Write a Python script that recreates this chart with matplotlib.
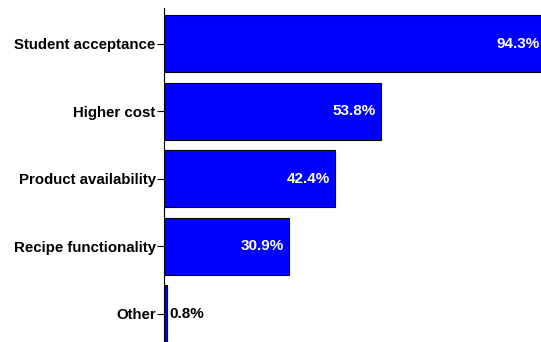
import numpy as np
import matplotlib.pyplot as plt

plt.rcParams['font.family'] = ['Liberation Sans', 'DejaVu Sans']

categories = ["Student acceptance", "Higher cost", "Product availability",
              "Recipe functionality", "Other"]
values = [94.3, 53.8, 42.4, 30.9, 0.8]
labels = ["94.3%", "53.8%", "42.4%", "30.9%", "0.8%"]

fig = plt.figure(figsize=(5.41, 3.42), dpi=100)
ax = fig.add_axes([164 / 541, 0.0, 1 - 164 / 541, (342 - 8) / 342])

y = np.arange(len(categories))
ax.barh(y, values, height=0.85, color="#0000ff", edgecolor="black", linewidth=0.8)

for yi, v, lab in zip(y, values, labels):
    if v > 10:
        ax.text(v - 1.2, yi, lab, ha="right", va="center", color="white",
                fontsize=11, fontweight="bold")
    else:
        ax.text(v + 0.6, yi, lab, ha="left", va="center", color="black",
                fontsize=11, fontweight="bold")

ax.set_yticks(y)
ax.set_yticklabels(categories, fontsize=10.8, fontweight="bold")
ax.set_ylim(4.42, -0.53)
ax.set_xlim(0, 93.5)
ax.set_xticks([])
for s in ["top", "right", "bottom"]:
    ax.spines[s].set_visible(False)
ax.spines["left"].set_linewidth(0.8)
ax.tick_params(axis="y", length=5, width=0.8, pad=1)

fig.savefig("out.png", dpi=100)
